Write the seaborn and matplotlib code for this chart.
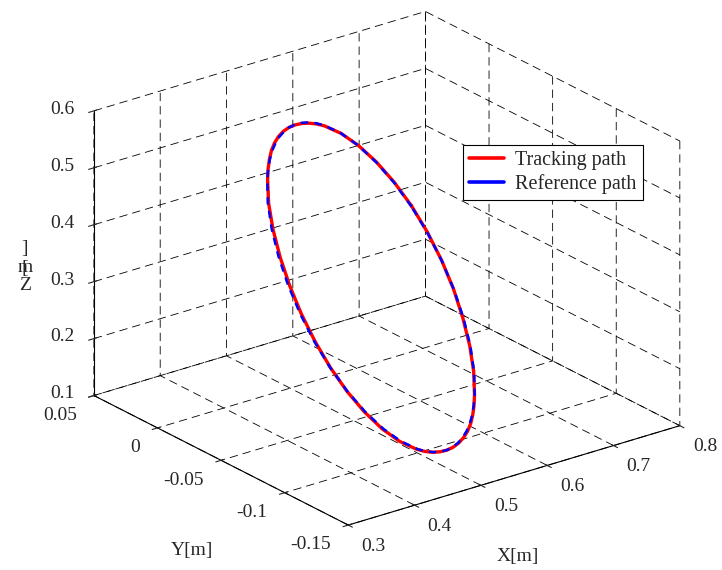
import matplotlib
matplotlib.use("Agg")
import matplotlib.pyplot as plt
import seaborn as sns

# Reference circle (x, y, z in metres)
ref_x = [0.7147, 0.7079, 0.6956, 0.6782, 0.6562, 0.6302, 0.6159, 0.6010, 0.5855, 0.5695,
         0.5532, 0.5368, 0.5202, 0.5037, 0.4873, 0.4713, 0.4556, 0.4405, 0.4123, 0.3876,
         0.3672, 0.3515, 0.3411, 0.3363, 0.3373, 0.3441, 0.3564, 0.3738, 0.3958, 0.4218,
         0.4361, 0.4510, 0.4665, 0.4825, 0.4988, 0.5153, 0.5318, 0.5483, 0.5647, 0.5808,
         0.5964, 0.6115, 0.6397, 0.6644, 0.6849, 0.7006, 0.7109, 0.7157, 0.7147]
ref_y = [0.0164, 0.0264, 0.0341, 0.0392, 0.0417, 0.0413, 0.0401, 0.0382, 0.0356, 0.0324,
         0.0285, 0.0240, 0.0190, 0.0135, 0.0075, 0.0010, -0.0059, -0.0131, -0.0282, -0.0441,
         -0.0601, -0.0758, -0.0907, -0.1044, -0.1164, -0.1264, -0.1341, -0.1392, -0.1417, -0.1413,
         -0.1401, -0.1382, -0.1356, -0.1324, -0.1285, -0.1240, -0.1190, -0.1135, -0.1075, -0.1010,
         -0.0941, -0.0869, -0.0718, -0.0560, -0.0399, -0.0242, -0.0093, 0.0044, 0.0164]
ref_z = [0.3250, 0.3577, 0.3894, 0.4192, 0.4461, 0.4693, 0.4793, 0.4881, 0.4957, 0.5020,
         0.5070, 0.5105, 0.5127, 0.5134, 0.5127, 0.5105, 0.5070, 0.5020, 0.4881, 0.4693,
         0.4461, 0.4192, 0.3894, 0.3577, 0.3250, 0.2923, 0.2606, 0.2308, 0.2039, 0.1807,
         0.1707, 0.1619, 0.1543, 0.1480, 0.1430, 0.1395, 0.1373, 0.1366, 0.1373, 0.1395,
         0.1430, 0.1480, 0.1619, 0.1807, 0.2039, 0.2308, 0.2606, 0.2923, 0.3250]

# Tracking path (measured)
trk_x = [0.7157, 0.7087, 0.6961, 0.6784, 0.6562, 0.6300, 0.6155, 0.6005, 0.5849, 0.5689,
         0.5527, 0.5364, 0.5200, 0.5037, 0.4875, 0.4717, 0.4561, 0.4411, 0.4131, 0.3886,
         0.3682, 0.3523, 0.3416, 0.3365, 0.3371, 0.3436, 0.3556, 0.3728, 0.3948, 0.4210,
         0.4355, 0.4506, 0.4663, 0.4825, 0.4990, 0.5157, 0.5323, 0.5489, 0.5653, 0.5813,
         0.5968, 0.6118, 0.6399, 0.6644, 0.6847, 0.7005, 0.7112, 0.7164, 0.7157]
trk_y = [0.0170, 0.0269, 0.0344, 0.0392, 0.0414, 0.0408, 0.0395, 0.0376, 0.0351, 0.0321,
         0.0285, 0.0243, 0.0195, 0.0141, 0.0081, 0.0015, -0.0056, -0.0130, -0.0284, -0.0446,
         -0.0608, -0.0766, -0.0914, -0.1049, -0.1166, -0.1262, -0.1336, -0.1385, -0.1409, -0.1406,
         -0.1395, -0.1378, -0.1354, -0.1324, -0.1287, -0.1244, -0.1195, -0.1140, -0.1079, -0.1012,
         -0.0941, -0.0867, -0.0714, -0.0555, -0.0395, -0.0240, -0.0090, 0.0049, 0.0170]
trk_z = [0.3255, 0.3581, 0.3896, 0.4192, 0.4459, 0.4689, 0.4788, 0.4876, 0.4953, 0.5018,
         0.5070, 0.5107, 0.5130, 0.5137, 0.5129, 0.5105, 0.5068, 0.5016, 0.4876, 0.4688,
         0.4458, 0.4192, 0.3897, 0.3582, 0.3256, 0.2928, 0.2609, 0.2308, 0.2036, 0.1802,
         0.1701, 0.1614, 0.1540, 0.1479, 0.1431, 0.1398, 0.1377, 0.1370, 0.1376, 0.1396,
         0.1429, 0.1477, 0.1615, 0.1804, 0.2039, 0.2311, 0.2611, 0.2929, 0.3255]

x_ticks = [0.3, 0.4, 0.5, 0.6, 0.7, 0.8]
x_labels = ["0.3", "0.4", "0.5", "0.6", "0.7", "0.8"]
y_ticks = [-0.15, -0.1, -0.05, 0, 0.05]
y_labels = ["-0.15", "-0.1", "-0.05", "0", "0.05"]
z_ticks = [0.1, 0.2, 0.3, 0.4, 0.5, 0.6]
z_labels = ["0.1", "0.2", "0.3", "0.4", "0.5", "0.6"]

sns.set_style("white")
plt.rcParams["font.family"] = ["Liberation Serif", "DejaVu Serif"]
plt.rcParams["grid.color"] = "black"
plt.rcParams["grid.linestyle"] = (0, (10, 6))
plt.rcParams["grid.linewidth"] = 0.6

fig = plt.figure(figsize=(7.22, 5.70), dpi=100)
ax = fig.add_axes([-0.0443, -0.054, 1.136, 1.136], projection="3d", proj_type="ortho")
ax.view_init(elev=23, azim=-127.5)
ax.set_box_aspect((1, 1, 0.74))

ax.plot(trk_x, trk_y, trk_z, color="red", lw=2.4, label="Tracking path")
ax.plot(ref_x, ref_y, ref_z, color="blue", lw=1.8, ls=(0, (3, 2.5)), label="Reference path")

ax.set_xlim(0.3, 0.8)
ax.set_ylim(-0.15, 0.05)
ax.set_zlim(0.1, 0.6)
ax.set_xticks(x_ticks)
ax.set_xticklabels(x_labels, ha="left", va="center")
ax.set_yticks(y_ticks)
ax.set_yticklabels(y_labels, ha="right", va="center")
ax.set_zticks(z_ticks)
ax.set_zticklabels(z_labels, va="center")
ax.tick_params(labelsize=14)
ax.xaxis.set_tick_params(pad=4.5)
ax.yaxis.set_tick_params(pad=4.5)
ax.zaxis.set_tick_params(pad=5)

for axis in (ax.xaxis, ax.yaxis, ax.zaxis):
    axis.set_pane_color((1, 1, 1, 0))
    axis.pane.set_edgecolor("none")
    axis.line.set_color("black")
    axis.line.set_linewidth(0.8)
ax.grid(True)

# axis labels
fig.text(518 / 722, 1 - 557 / 570, "X[m]", fontsize=14, ha="center", va="center")
fig.text(192 / 722, 1 - 550 / 570, "Y[m]", fontsize=14, ha="center", va="center")
fig.text(25 / 722, 1 - 249 / 570, "]", fontsize=14, ha="center", va="center")
fig.text(25 / 722, 1 - 268 / 570, "m", fontsize=14, ha="center", va="center")
fig.text(25 / 722, 1 - 268 / 570, "[", fontsize=14, ha="center", va="center")
fig.text(25 / 722, 1 - 285 / 570, "Z", fontsize=14, ha="center", va="center")

leg = ax.legend(loc="upper left", bbox_to_anchor=(463 / 722, 1 - 145 / 570),
                bbox_transform=fig.transFigure, fancybox=False, edgecolor="black",
                framealpha=1, borderaxespad=0, borderpad=0.3, labelspacing=0.2,
                handlelength=1.75, handletextpad=0.55, fontsize=14.5)
leg.get_frame().set_linewidth(0.8)
for line in leg.get_lines():
    line.set_linestyle("-")
    line.set_linewidth(2.6)

fig.savefig("out.png", dpi=100)
